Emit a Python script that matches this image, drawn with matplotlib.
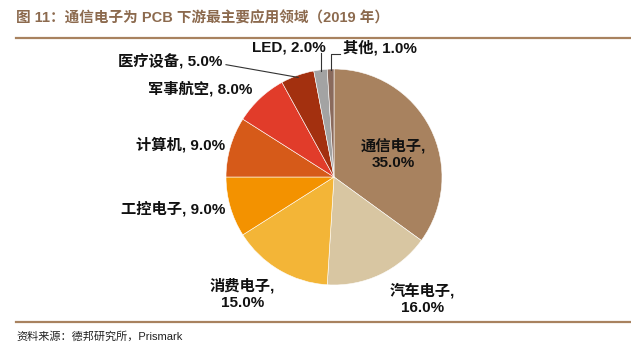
import matplotlib.pyplot as plt
import numpy as np

plt.rcParams['font.family'] = ['Liberation Sans', 'Noto Sans CJK SC', 'DejaVu Sans']

# data
categories = ['通信电子', '汽车电子', '消费电子', '工控电子', '计算机',
              '军事航空', '医疗设备', 'LED', '其他']
shares = [35.0, 16.0, 15.0, 9.0, 9.0, 8.0, 5.0, 2.0, 1.0]
colors = ['#A8825F', '#D8C6A2', '#F3B537', '#F39200', '#D65A19',
          '#E13C2A', '#A3300F', '#A3A3A3', '#8A6A5C']

# label layout (pie radius = 1): x, y, ha, two-line?
label_pos = {
    '通信电子': (0.55, 0.21, 'center', True),
    '汽车电子': (0.82, -1.13, 'center', True),
    '消费电子': (-0.85, -1.08, 'center', True),
    '工控电子': (-1.01, -0.29, 'right', False),
    '计算机': (-1.01, 0.30, 'right', False),
    '军事航空': (-0.76, 0.82, 'right', False),
    '医疗设备': (-1.03, 1.065, 'right', False),
    'LED': (-0.08, 1.195, 'right', False),
    '其他': (0.08, 1.195, 'left', False),
}

W, H = 631, 351
fig = plt.figure(figsize=(W / 100, H / 100), dpi=100)

cx, cy, r = 334, 177, 108
ext = 1.5 * r
ax = fig.add_axes([(cx - ext) / W, (H - cy - ext) / H, 2 * ext / W, 2 * ext / H])

wedges, _ = ax.pie(shares, colors=colors, startangle=90, counterclock=False,
                   wedgeprops=dict(edgecolor='white', linewidth=0.4))
ax.set_xlim(-1.5, 1.5)
ax.set_ylim(-1.5, 1.5)
ax.set_aspect('equal')
ax.axis('off')

for w, name, val in zip(wedges, categories, shares):
    x, y, ha, two = label_pos[name]
    sep = ',\n' if two else ', '
    ax.text(x, y, f'{name}{sep}{val:.1f}%', ha=ha, va='center', fontsize=11,
            fontweight='bold', color='#111111', linespacing=1.25)

# leader lines for the small slices
def mid(w, rr=1.0):
    a = np.deg2rad((w.theta1 + w.theta2) / 2)
    return rr * np.cos(a), rr * np.sin(a)

lc = dict(color='#333333', lw=0.8, clip_on=False)
mx, my = mid(wedges[6], 0.98)
ax.plot([-1.0, mx], [1.04, my], **lc)
mx, my = mid(wedges[7], 0.99)
ax.plot([mx, mx], [my, 1.15], **lc)
mx, my = mid(wedges[8], 0.99)
ax.plot([mx, mx, 0.055], [my, 1.14, 1.14], **lc)

# title, rules and source
fig.text(16 / W, 1 - 18 / H, '图 11：通信电子为 PCB 下游最主要应用领域（2019 年）',
         fontsize=10.5, fontweight='bold', color='#8C6A4E', va='center', ha='left')
fig.add_artist(plt.Line2D([16 / W, 1], [1 - 38 / H] * 2, color='#A8825F', lw=1.6))
fig.add_artist(plt.Line2D([16 / W, 1], [1 - 322 / H] * 2, color='#A8825F', lw=1.6))
fig.text(16 / W, 1 - 336 / H, '资料来源：德邦研究所，Prismark',
         fontsize=8, color='#222222', va='center', ha='left')

fig.savefig('out.png', dpi=100)
